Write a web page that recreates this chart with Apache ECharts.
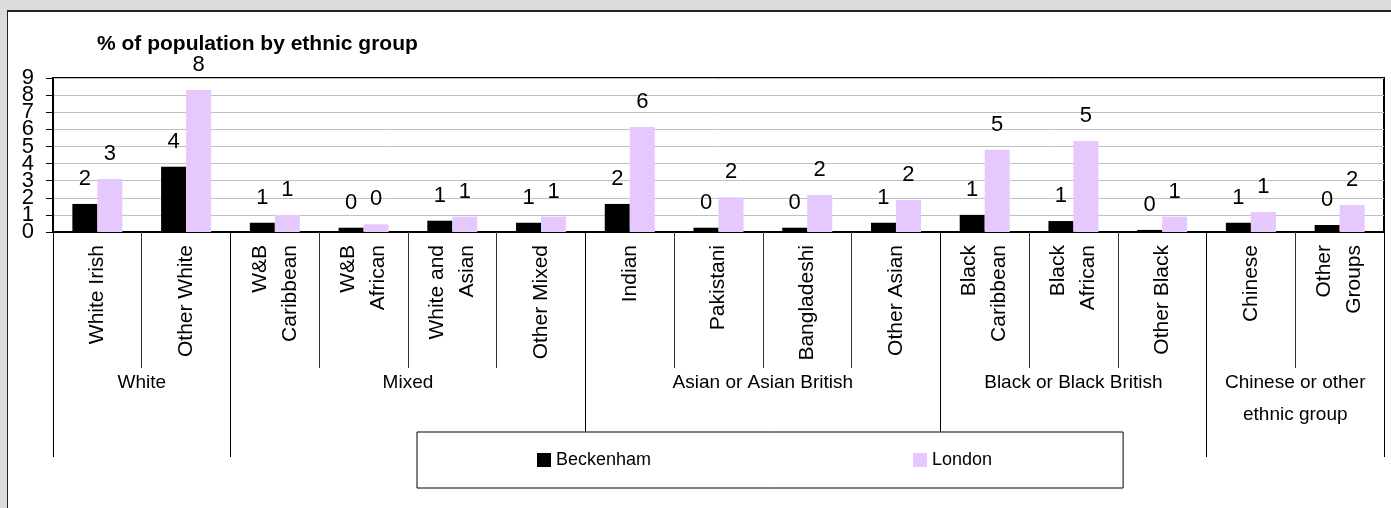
<!DOCTYPE html>
<html>
<head>
<meta charset="utf-8">
<title>% of population by ethnic group</title>
<script src="https://cdn.jsdelivr.net/npm/echarts@6/dist/echarts.min.js"></script>
<style>
html, body { margin: 0; padding: 0; background: #dcdcdc; overflow: hidden; }
#panel {
    position: absolute; left: 7px; top: 10px; width: 1400px; height: 520px;
    background: #fff; border-left: 1px solid #222; border-top: 2px solid #222;
}
#chart { position: absolute; left: 0; top: 0; width: 1391px; height: 508px; }
</style>
</head>
<body>
<div id="panel"></div>
<div id="chart"></div>
<script>
// sub-categories (x axis, first level)
var categories = [
    'White Irish', 'Other White',
    'W&B\nCaribbean', 'W&B\nAfrican', 'White and\nAsian', 'Other Mixed',
    'Indian', 'Pakistani', 'Bangladeshi', 'Other Asian',
    'Black\nCaribbean', 'Black\nAfrican', 'Other Black',
    'Chinese', 'Other\nGroups'
];
// groups (x axis, second level) and how many sub-categories each covers
var groupNames = ['White', 'Mixed', 'Asian or Asian British', 'Black or Black British', 'Chinese or other\nethnic group'];
var groupSizes = [2, 4, 4, 3, 2];

var beckenham = [1.64, 3.82, 0.54, 0.25, 0.66, 0.54, 1.64, 0.25, 0.25, 0.54, 1.0, 0.64, 0.12, 0.54, 0.41];
var london = [3.1, 8.3, 1.0, 0.45, 0.9, 0.9, 6.14, 2.03, 2.16, 1.87, 4.8, 5.32, 0.9, 1.17, 1.58];

var yTicks = [0, 1, 2, 3, 4, 5, 6, 7, 8, 9];

// group boundaries and centres on a 0..15 scale
var bounds = [0], centres = [];
groupSizes.forEach(function (n, i) {
    var start = bounds[i];
    bounds.push(start + n);
    centres.push(start + n / 2);
});

// tick labels are taller than the tick spacing, so they are split over two
// overlaid axes, otherwise echarts drops the ones that touch
var yEven = yTicks.filter(function (v, i) { return i % 2 === 0; });
var yOdd = yTicks.filter(function (v, i) { return i % 2 === 1; });

var FONT = '"Liberation Sans", Arial, sans-serif';

var yLabel = function (values) {
    return {
        customValues: values,
        margin: 19,
        showMinLabel: true,
        showMaxLabel: true,
        fontFamily: FONT,
        fontSize: 22,
        color: '#000'
    };
};

var myChart = echarts.init(document.getElementById('chart'));
myChart.setOption({
    animation: false,
    textStyle: { fontFamily: FONT },
    title: {
        text: '% of population by ethnic group',
        left: 92,
        top: 29,
        textStyle: { fontFamily: FONT, fontSize: 21, fontWeight: 'bold', color: '#000' }
    },
    legend: {
        data: ['Beckenham', 'London'],
        left: 417,
        top: 432,
        padding: [19, 131, 19, 120],
        itemGap: 262,
        itemWidth: 14,
        itemHeight: 14,
        icon: 'rect',
        backgroundColor: '#fff',
        borderColor: '#000',
        borderWidth: 1,
        borderRadius: 0,
        textStyle: { fontFamily: FONT, fontSize: 18, color: '#000' }
    },
    grid: {
        left: 53,
        right: 7,
        top: 78,
        bottom: 276,
        show: true,
        borderColor: '#000',
        borderWidth: 2,
        backgroundColor: 'transparent'
    },
    xAxis: [
        {
            type: 'category',
            data: categories,
            axisLine: { lineStyle: { color: '#000', width: 2 } },
            axisTick: { show: true, interval: 0, length: 136, lineStyle: { color: '#333', width: 1 } },
            axisLabel: {
                interval: 0,
                rotate: 90,
                margin: 13,
                fontFamily: FONT,
                fontSize: 21,
                lineHeight: 30,
                color: '#000'
            }
        },
        {
            type: 'value',
            position: 'bottom',
            min: 0,
            max: 15,
            axisLine: { show: false },
            splitLine: { show: false },
            axisTick: {
                show: true,
                customValues: bounds,
                length: 225,
                lineStyle: { color: '#000', width: 1 }
            },
            axisLabel: {
                customValues: centres,
                margin: 135,
                fontFamily: FONT,
                fontSize: 19,
                lineHeight: 32,
                color: '#000',
                formatter: function (v) {
                    var i = centres.indexOf(v);
                    return i >= 0 ? groupNames[i] : '';
                }
            }
        }
    ],
    yAxis: [
        {
            type: 'value',
            min: yTicks[0],
            max: yTicks[yTicks.length - 1],
            interval: 1,
            axisLine: { show: true, lineStyle: { color: '#000', width: 2 } },
            axisTick: { show: true, length: 7, lineStyle: { color: '#000' } },
            splitLine: { lineStyle: { color: '#c0c0c0', width: 1 } },
            axisLabel: yLabel(yEven)
        },
        {
            type: 'value',
            position: 'left',
            offset: 0,
            min: yTicks[0],
            max: yTicks[yTicks.length - 1],
            interval: 1,
            axisLine: { show: false },
            axisTick: { show: false },
            splitLine: { show: false },
            axisLabel: yLabel(yOdd)
        }
    ],
    series: [
        {
            name: 'Beckenham',
            type: 'bar',
            data: beckenham,
            barWidth: 25,
            barGap: '0%',
            itemStyle: { color: '#000' },
            label: {
                show: true,
                position: 'top',
                distance: 14,
                fontFamily: FONT,
                fontSize: 22,
                color: '#000',
                formatter: function (p) { return Math.round(p.value); }
            }
        },
        {
            name: 'London',
            type: 'bar',
            data: london,
            barWidth: 25,
            barGap: '0%',
            itemStyle: { color: '#e5c8fe' },
            label: {
                show: true,
                position: 'top',
                distance: 14,
                fontFamily: FONT,
                fontSize: 22,
                color: '#000',
                formatter: function (p) { return Math.round(p.value); }
            }
        }
    ]
});
</script>
</body>
</html>
